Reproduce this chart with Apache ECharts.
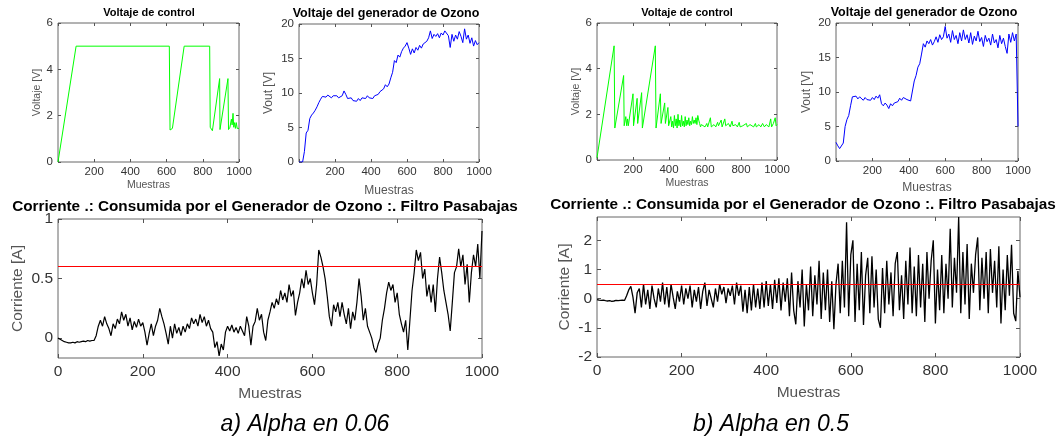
<!DOCTYPE html>
<html><head><meta charset="utf-8">
<script src="https://cdn.jsdelivr.net/npm/echarts@6/dist/echarts.min.js"></script>
<style>html,body{margin:0;background:#fff}#c{width:1063px;height:440px}</style>
</head><body><div id="c"></div>
<script>
// ===== datos =====
// Voltaje de control [muestra, V]
const controlA = [[0,0],[100,5],[615,5],[619,1.38],[632,1.45],[697,5],[838,5],[841,1.5],[853,1.35],[893,3.6],[895,1.4],[901,1.45],[939,3.6],[942,1.4],[950,1.5],[958,1.85],[962,1.6],[967,2.1],[971,1.5],[976,1.7],[980,1.45],[985,1.7],[990,1.45],[995,1.5],[1000,1.45]];
const controlB = [[0,0.1],[95,5],[99,1.4],[148,3.7],[151,1.5],[160,1.9],[165,1.5],[170,1.8],[174,1.5],[200,2.9],[203,1.5],[223,2.7],[226,1.6],[248,2.95],[252,1.4],[324,5],[328,1.4],[352,2.9],[356,1.6],[376,2.5],[380,1.6],[394,2.3],[398,1.5],
  [405,1.5],[410,1.9],[415,1.45],[420,1.7],[425,1.4],[430,1.95],[435,1.5],[440,1.8],[445,1.4],[450,2.0],[455,1.5],[460,1.75],[465,1.45],[470,1.95],[475,1.5],[480,1.7],[485,1.45],[490,1.9],[495,1.5],[500,1.75],
  [505,1.55],[510,1.85],[515,1.5],[520,1.7],[525,1.55],[530,1.9],[535,1.6],[540,1.75],[545,1.6],[550,1.85],[555,1.55],[560,1.95],[565,1.75],[570,1.6],[575,1.45],[580,1.55],
  [590,1.5],[600,1.45],[610,1.6],[615,1.45],[630,1.85],[635,1.45],[650,1.55],[660,1.45],[670,1.65],[675,1.5],[690,1.75],[695,1.45],[710,1.8],[715,1.5],[730,1.6],[740,1.45],[750,1.7],[755,1.5],
  [770,1.55],[780,1.45],[790,1.65],[795,1.45],[810,1.5],[830,1.6],[835,1.45],[850,1.55],[870,1.45],[880,1.6],[885,1.45],[900,1.55],[910,1.45],[920,1.6],[930,1.45],[940,1.55],[955,1.45],[965,1.8],[970,1.45],[980,1.6],[990,1.85],[995,1.5],[1000,1.55]];

// Vout [V], una muestra cada 10
const PASO_VOUT = 10;
const voutA = [
  0, 0, 0, 1.5, 4.2, 4.6, 6.3, 6.8, 7.1, 7.5,
  8.0, 8.6, 9.1, 9.5, 9.6, 9.4, 9.7, 9.5, 9.3, 9.6,
  9.4, 9.6, 9.3, 9.5, 9.6, 10.3, 9.8, 9.2, 9.0, 9.3,
  8.9, 9.1, 8.8, 9.2, 8.9, 9.3, 9.5, 9.2, 9.6, 9.3,
  9.5, 9.2, 9.6, 9.4, 9.8, 10.2, 10.0, 10.6, 11.2, 10.9,
  11.3, 12.2, 13.0, 14.7, 14.4, 15.5, 15.2, 16.0, 16.5, 16.8,
  17.3, 16.5, 15.6, 16.4, 15.8, 16.6, 16.2, 16.9, 16.5, 17.1,
  16.9, 17.5, 18.0, 19.0, 17.9, 18.5, 18.2, 18.6, 18.0, 18.7,
  18.4, 19.0, 18.8, 18.3, 16.6, 18.5, 17.5, 18.4, 17.8, 18.9,
  18.2, 17.3, 19.3, 17.8, 18.4, 17.2, 18.0, 16.8, 17.6, 17.0,
  17.3];
const voutB = [
  2.7, 2.2, 1.8, 1.7, 2.6, 5.0, 6.0, 6.6, 8.0, 9.3,
  9.2, 9.4, 9.0, 9.3, 9.1, 8.8, 9.2, 8.9, 9.1, 8.8,
  9.2, 8.9, 9.4, 9.1, 9.6, 8.3, 8.0, 8.4, 8.1, 7.6,
  8.3, 8.0, 8.4, 8.2, 8.6, 9.1, 8.8, 9.2, 9.0, 8.9,
  9.1, 8.7, 8.6, 11.6, 12.4, 13.6, 14.1, 15.5, 17.0, 16.5,
  17.4, 17.0, 17.6, 16.8, 17.3, 18.0, 17.2, 18.3, 17.6, 18.0,
  19.5, 17.8, 18.4, 17.2, 18.9, 17.6, 18.2, 17.0, 18.6, 17.4,
  19.0, 17.6, 18.3, 17.1, 18.6, 16.9, 18.1, 17.4, 18.8, 17.3,
  17.9, 16.6, 18.2, 17.3, 17.8, 16.8, 18.4, 17.1, 17.6, 16.4,
  18.2, 17.0, 17.8, 16.6, 15.6, 18.4, 17.2, 18.6, 17.4, 18.4,
  5.0];

// Corriente [A], una muestra cada 5
const PASO_CORR = 5;
const corrA = [
  0, -0.01, -0.02, -0.03, -0.035, -0.04, -0.04, -0.035, -0.04, -0.03,
  -0.035, -0.03, -0.025, -0.03, -0.02, -0.025, -0.02, -0.02, 0.02, 0.1,
  0.15, 0.1, 0.18, 0.12, 0.08, 0.02, 0.12, 0.08, 0.16, 0.12,
  0.22, 0.15, 0.2, 0.1, 0.17, 0.07, 0.14, 0.09, 0.16, 0.1,
  0.13, 0.05, -0.06, 0.04, 0.12, 0.02, 0.1, 0.15, 0.25, 0.18,
  0.12, 0.04, -0.05, 0.1, 0.0, 0.12, 0.04, 0.09, 0.02, 0.1,
  0.05, 0.12, 0.08, 0.17, 0.12, 0.16, 0.1, 0.2, 0.13, 0.18,
  0.1, 0.15, 0.08, 0.05, -0.08, -0.03, -0.15, -0.05, -0.1, 0.05,
  0.1, 0.06, 0.11, 0.05, 0.09, 0.04, 0.1, 0.06, 0.02, 0.18,
  0.1, -0.06, 0.1, 0.14, 0.25, 0.15, 0.2, 0.05, -0.02, 0.15,
  0.22, 0.3, 0.25, 0.33, 0.28, 0.4, 0.32, 0.38, 0.3, 0.45,
  0.35, 0.4, 0.19, 0.3, 0.38, 0.5, 0.42, 0.57, 0.45, 0.5,
  0.38, 0.28, 0.45, 0.74, 0.68, 0.6, 0.5, 0.35, 0.18, 0.1,
  0.28, 0.22, 0.3, 0.18, 0.3, 0.2, 0.12, 0.25, 0.08, 0.22,
  0.15, 0.3, 0.5, 0.35, 0.15, 0.25, 0.1, 0.05, 0.0, -0.08,
  -0.12, -0.05, 0.0, 0.15, 0.25, 0.38, 0.47, 0.4, 0.45, 0.3,
  0.38, 0.2, 0.12, 0.05, 0.15, -0.1, 0.15, 0.4, 0.55, 0.74,
  0.65, 0.72, 0.5, 0.58, 0.35, 0.45, 0.3, 0.45, 0.22, 0.5,
  0.68, 0.55, 0.4, 0.3, 0.2, 0.06, 0.3, 0.55, 0.6, 0.75,
  0.6, 0.7, 0.45, 0.62, 0.3, 0.55, 0.7, 0.6, 0.79, 0.5,
  0.9];
const corrB = [
  -0.03, -0.05, -0.06, -0.05, -0.07, -0.08, -0.07, -0.09, -0.08, -0.06,
  -0.07, -0.06, -0.05, -0.06, 0.1, 0.3, 0.42, 0.05, -0.5, 0.2,
  0.35, -0.3, 0.5, -0.2, 0.3, -0.35, 0.45, 0.0, -0.3, 0.35,
  -0.1, 0.55, -0.2, 0.4, -0.3, 0.5, 0.05, -0.35, 0.25, -0.1,
  0.45, -0.2, 0.35, 0.0, 0.45, -0.3, 0.3, -0.1, 0.4, -0.35,
  0.25, 0.55, -0.25, 0.3, 0.0, -0.3, 0.35, -0.1, 0.5, 0.15,
  0.4, -0.15, 0.35, 0.1, 0.45, -0.2, 0.55, 0.1, 0.45, -0.45,
  0.3, -0.5, 0.4, -0.4, 0.5, -0.3, 0.35, -0.35, 0.55, -0.3,
  0.6, -0.25, 0.5, -0.35, 0.65, -0.15, 0.7, -0.4, 0.55, -0.1,
  0.7, -0.6, 0.9, -0.4, -0.88, 0.6, -0.3, 1.0, -0.95, 0.5,
  -0.4, 1.1, -0.6, 0.8, -0.2, 1.3, -0.7, 0.9, -0.4, 1.0,
  -0.8, 0.6, -1.05, 0.5, 1.2, -0.5, 1.3, -0.3, 2.62, -0.6,
  1.5, 2.0, -0.8, 1.2, -0.4, 1.6, -0.9, 0.8, 1.4, -0.5,
  1.45, -0.3, 1.0, -0.7, -1.0, 1.05, -0.5, 1.3, -0.2, 0.9,
  -0.6, 1.2, 1.6, -0.4, 0.8, -0.7, 1.3, -0.2, 1.75, -0.5,
  1.1, -0.6, 1.5, -0.3, 1.2, -0.8, 1.6, 0.0, 1.3, 2.0,
  -0.85, 1.0, -0.4, 1.5, -0.5, 1.2, 0.0, 2.4, -0.3, 1.4,
  0.2, 2.8, -0.5, 1.6, -0.2, 1.87, -0.7, 1.2, 0.2, 1.5,
  2.1, -0.4, 1.4, 0.0, 1.6, -0.5, 1.7, 0.2, 1.3, -0.3,
  1.8, -0.85, 1.0, -0.4, 1.5, 0.1, 1.85, -0.5, -0.77, 0.95,
  0.05];
const UMBRAL_A = 0.6;
const UMBRAL_B = 0.5;

const TITULO_CTRL = 'Voltaje de control';
const TITULO_VOUT = 'Voltaje del generador de Ozono';
const TITULO_CORR = 'Corriente .: Consumida por el Generador de Ozono :. Filtro Pasabajas';

// ===== layout =====
const FUENTE = '"Liberation Sans", Arial, sans-serif';
const GRID = [
  { left: 58, top: 23, width: 181, height: 139 },
  { left: 299, top: 24, width: 180, height: 138 },
  { left: 58, top: 219, width: 424, height: 139 },
  { left: 597, top: 23, width: 180, height: 137 },
  { left: 836, top: 23, width: 182, height: 138 },
  { left: 597, top: 217, width: 423, height: 140 },
];
const PANELES = [
  { yname: 'Voltaje [V]', ymin: 0, ymax: 6, yint: 2, sin0: true, fs: 11.5, nfs: 10.5, xgap: 18, ygap: 12, xm: 4, tl: 3, lw: 1 },
  { yname: 'Vout [V]', ymin: 0, ymax: 20, yint: 5, sin0: true, fs: 11.5, nfs: 12, xgap: 23, ygap: 24, xm: 4, tl: 3, lw: 1 },
  { yname: 'Corriente [A]', ymin: -0.167, ymax: 1, yvals: [0, 0.5, 1], sin0: false, fs: 15.5, nfs: 15.5, xgap: 28, ygap: 32, xm: 6, tl: 4, lw: 1.2 },
  { yname: 'Voltaje [V]', ymin: 0, ymax: 6, yint: 2, sin0: true, fs: 11.5, nfs: 10.5, xgap: 18, ygap: 14, xm: 4, tl: 3, lw: 1 },
  { yname: 'Vout [V]', ymin: 0, ymax: 20, yint: 5, sin0: true, fs: 11.5, nfs: 12, xgap: 21, ygap: 23, xm: 4, tl: 3, lw: 1 },
  { yname: 'Corriente [A]', ymin: -2, ymax: 2.8, yvals: [-2, -1, 0, 1, 2], sin0: false, fs: 15.5, nfs: 15.5, xgap: 28, ygap: 24, xm: 6, tl: 4, lw: 1.3 },
];

const aPares = (ys, paso) => ys.map((v, i) => [i * paso, v]);

const xAxis = [], yAxis = [];
// ejes principales (0..5) y espejos arriba/derecha (6..11) para las marcas estilo MATLAB
[false, true].forEach(espejo => {
  PANELES.forEach((p, i) => {
    const tick = { inside: true, length: p.tl, lineStyle: { color: '#555' } };
    xAxis.push({
      gridIndex: i, type: 'value', min: 0, max: 1000, interval: 200,
      position: espejo ? 'top' : 'bottom',
      axisLine: { show: false, onZero: false }, splitLine: { show: false }, axisTick: tick,
      axisLabel: {
        show: !espejo, fontSize: p.fs, color: '#333', margin: p.xm, fontFamily: FUENTE,
        formatter: v => (p.sin0 && v === 0) ? '' : String(v),
      },
      name: espejo ? '' : 'Muestras', nameLocation: 'middle', nameGap: p.xgap,
      nameTextStyle: { fontSize: p.fs === 15.5 ? 15.5 : p.nfs, color: '#555', fontFamily: FUENTE },
    });
    const yTick = Object.assign({}, tick);
    const yLab = { show: !espejo, fontSize: p.fs, color: '#333', margin: 5, fontFamily: FUENTE };
    if (p.yvals) { yTick.customValues = p.yvals; yLab.customValues = p.yvals; }
    const y = {
      gridIndex: i, type: 'value', min: p.ymin, max: p.ymax,
      position: espejo ? 'right' : 'left',
      axisLine: { show: false, onZero: false }, splitLine: { show: false }, axisTick: yTick, axisLabel: yLab,
      name: espejo ? '' : p.yname, nameLocation: 'middle', nameGap: p.ygap,
      nameTextStyle: { fontSize: p.nfs, color: '#555', fontFamily: FUENTE },
    };
    if (!p.yvals) y.interval = p.yint;
    yAxis.push(y);
  });
});

const linea = (idx, data, color, umbral) => {
  const s = {
    type: 'line', xAxisIndex: idx, yAxisIndex: idx, data, showSymbol: false, symbol: 'none',
    lineStyle: { color, width: PANELES[idx].lw }, silent: true,
  };
  if (umbral != null) {
    s.markLine = {
      silent: true, symbol: 'none', label: { show: false },
      lineStyle: { color: '#ff0000', width: 1.2, type: 'solid' },
      data: [{ yAxis: umbral }],
    };
  }
  return s;
};

const texto = (x, y, text, font) => ({
  type: 'text', x, y, silent: true,
  style: { text, font, fill: '#000', align: 'center', verticalAlign: 'middle' },
});

const chart = echarts.init(document.getElementById('c'), null, { renderer: 'canvas' });
chart.setOption({
  animation: false,
  backgroundColor: '#fff',
  textStyle: { fontFamily: FUENTE },
  grid: GRID.map(g => Object.assign({ show: true, borderColor: '#666', borderWidth: 1, containLabel: false }, g)),
  xAxis, yAxis,
  series: [
    linea(0, controlA, '#00ff00'),
    linea(1, aPares(voutA, PASO_VOUT), '#0000ff'),
    linea(2, aPares(corrA, PASO_CORR), '#000000', UMBRAL_A),
    linea(3, controlB, '#00ff00'),
    linea(4, aPares(voutB, PASO_VOUT), '#0000ff'),
    linea(5, aPares(corrB, PASO_CORR), '#000000', UMBRAL_B),
  ],
  graphic: [
    texto(149, 13, TITULO_CTRL, 'bold 11px ' + FUENTE),
    texto(386, 14, TITULO_VOUT, 'bold 12.5px ' + FUENTE),
    texto(265, 207, TITULO_CORR, 'bold 15.3px ' + FUENTE),
    texto(687, 13, TITULO_CTRL, 'bold 11px ' + FUENTE),
    texto(924, 13, TITULO_VOUT, 'bold 12.5px ' + FUENTE),
    texto(803, 205, TITULO_CORR, 'bold 15.3px ' + FUENTE),
    texto(305, 425, 'a) Alpha en 0.06', 'italic 23px ' + FUENTE),
    texto(771, 425, 'b) Alpha en 0.5', 'italic 23px ' + FUENTE),
  ],
});
</script>
</body></html>
